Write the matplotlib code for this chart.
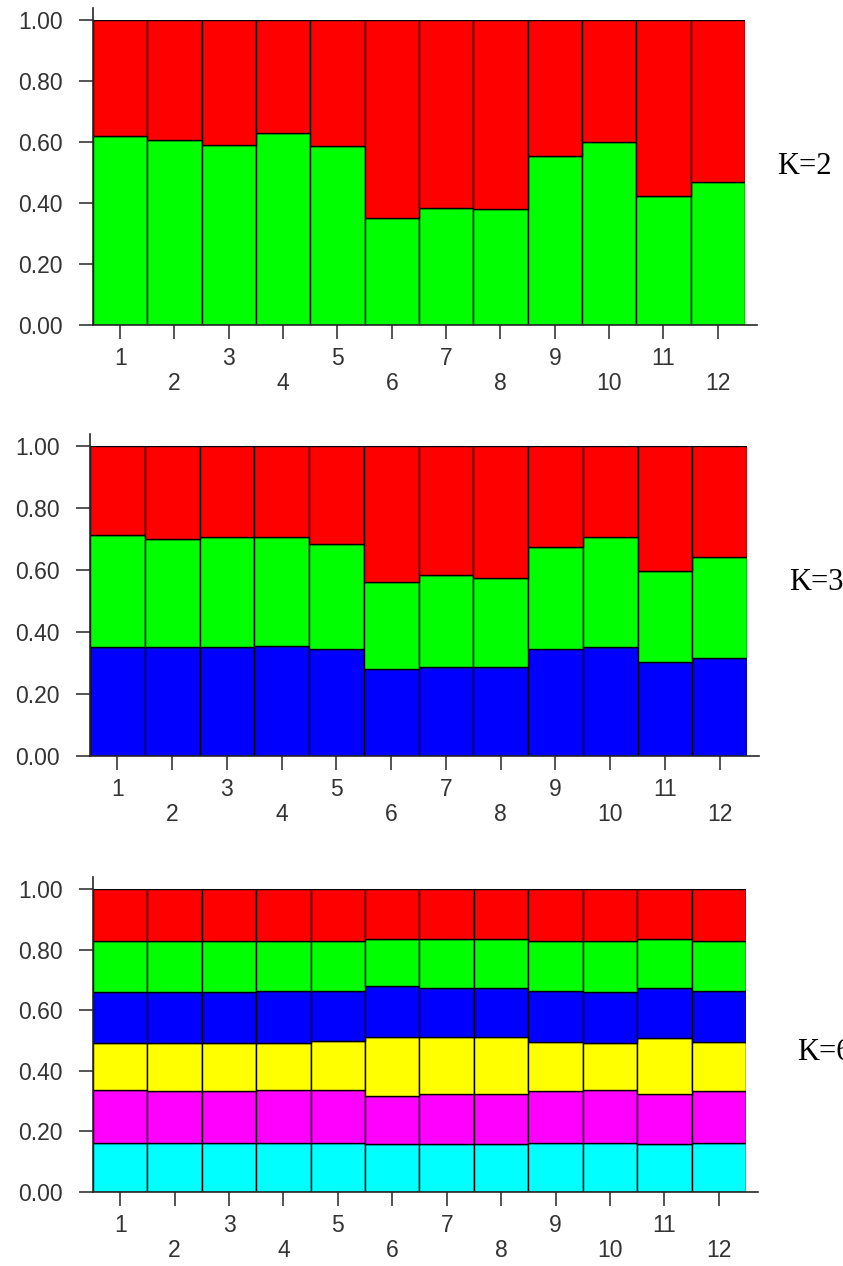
import matplotlib
matplotlib.use('Agg')
import matplotlib.pyplot as plt
import numpy as np

# ---------------- data ----------------
populations = [str(i) for i in range(1, 13)]
y_ticks = [0.0, 0.2, 0.4, 0.6, 0.8, 1.0]

# K=2 (bottom -> top)
k2_green = [0.620, 0.605, 0.591, 0.630, 0.587, 0.350, 0.383, 0.379, 0.553, 0.601, 0.423, 0.470]
k2_red   = [0.380, 0.395, 0.409, 0.370, 0.413, 0.650, 0.617, 0.621, 0.447, 0.399, 0.577, 0.530]

# K=3 (bottom -> top)
k3_blue  = [0.351, 0.351, 0.351, 0.356, 0.345, 0.280, 0.287, 0.287, 0.345, 0.351, 0.302, 0.317]
k3_green = [0.363, 0.350, 0.354, 0.349, 0.340, 0.280, 0.298, 0.287, 0.330, 0.354, 0.296, 0.325]
k3_red   = [0.286, 0.299, 0.295, 0.295, 0.315, 0.440, 0.415, 0.426, 0.325, 0.295, 0.402, 0.358]

# K=6 (bottom -> top)
k6_cyan    = [0.161, 0.161, 0.161, 0.161, 0.161, 0.157, 0.157, 0.157, 0.161, 0.161, 0.157, 0.161]
k6_magenta = [0.175, 0.173, 0.173, 0.175, 0.176, 0.160, 0.165, 0.165, 0.172, 0.176, 0.166, 0.172]
k6_yellow  = [0.157, 0.159, 0.159, 0.157, 0.160, 0.196, 0.191, 0.191, 0.163, 0.156, 0.184, 0.163]
k6_blue    = [0.168, 0.168, 0.168, 0.171, 0.167, 0.166, 0.161, 0.161, 0.168, 0.167, 0.167, 0.167]
k6_green   = [0.166, 0.166, 0.166, 0.163, 0.163, 0.156, 0.161, 0.161, 0.163, 0.167, 0.161, 0.164]
k6_red     = [0.173, 0.173, 0.173, 0.173, 0.173, 0.165, 0.165, 0.165, 0.173, 0.173, 0.165, 0.173]

k_labels = ["K=2", "K=3", "K=6"]

# ---------------- figure ----------------
W, H = 843, 1266
fig = plt.figure(figsize=(W / 100, H / 100), dpi=100)
fig.patch.set_facecolor('white')

RED, GREEN, BLUE = '#FF0000', '#00FF00', '#0000FF'
YELLOW, MAGENTA, CYAN = '#FFFF00', '#FF00FF', '#00FFFF'

panels = [
    (k_labels[0], [(k2_green, GREEN), (k2_red, RED)],
     (93, 745, 20, 325), (777, 166)),
    (k_labels[1], [(k3_blue, BLUE), (k3_green, GREEN), (k3_red, RED)],
     (90, 747, 446, 756), (789, 583)),
    (k_labels[2], [(k6_cyan, CYAN), (k6_magenta, MAGENTA), (k6_yellow, YELLOW),
                   (k6_blue, BLUE), (k6_green, GREEN), (k6_red, RED)],
     (93, 746, 889, 1192), (797, 1052)),
]

axis_col = '#262626'
text_col = '#333333'

for label, layers, (l, r, t, b), (kx, ky) in panels:
    ax = fig.add_axes([l / W, 1 - b / H, (r - l) / W, (b - t) / H])
    x = np.arange(len(populations))
    bottom = np.zeros(len(populations))
    for vals, col in layers:
        v = np.array(vals)
        ax.bar(x, v, width=1.0, bottom=bottom, color=col,
               edgecolor='black', linewidth=1.0, zorder=2)
        bottom = bottom + v
    ax.set_xlim(-0.5, len(populations) - 0.5)
    ax.set_ylim(0, 1)
    for s in ax.spines.values():
        s.set_visible(False)
    # axis lines (extended like the original)
    wpx, hpx = (r - l), (b - t)
    ax.plot([0, 0], [0, 1 + 12 / hpx], transform=ax.transAxes, color=axis_col,
            lw=1.2, clip_on=False, zorder=5)
    ax.plot([0, 1 + 12 / wpx], [0, 0], transform=ax.transAxes, color=axis_col,
            lw=1.2, clip_on=False, zorder=5)

    ax.set_yticks(y_ticks)
    ax.set_yticklabels([f"{v:.2f}" for v in y_ticks])
    ax.set_xticks(x)
    ax.set_xticklabels([p if (i % 2 == 0) else "\n" + p for i, p in enumerate(populations)],
                       linespacing=1.1)
    ax.tick_params(axis='both', direction='out', length=10, width=1.1,
                   color=axis_col, labelsize=16.5, labelcolor=text_col)
    ax.tick_params(axis='y', pad=12)
    ax.tick_params(axis='x', pad=6)
    for lab in ax.get_xticklabels() + ax.get_yticklabels():
        lab.set_fontfamily('Liberation Sans')

    fig.text(kx / W, 1 - ky / H, label, family='Liberation Serif', fontsize=22,
             ha='left', va='center', color='black')

fig.savefig('out.png', dpi=100, facecolor='white')
